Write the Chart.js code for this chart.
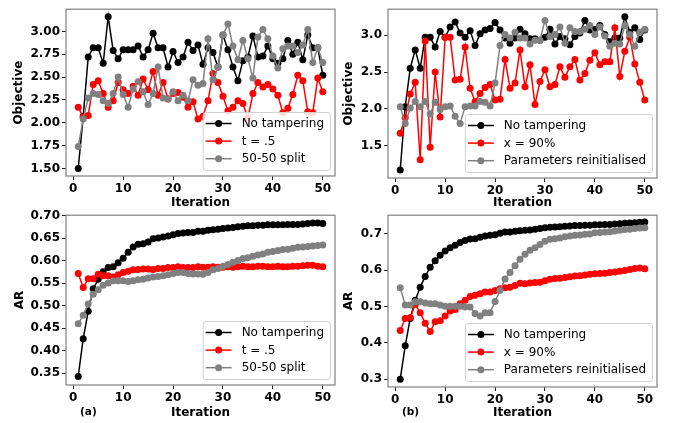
<!DOCTYPE html>
<html>
<head>
<meta charset="utf-8">
<script src="https://cdn.jsdelivr.net/npm/chart.js@4.4.0/dist/chart.umd.min.js"></script>
<style>
  body { margin: 0; background: #fff; }
  #wrap { position: relative; width: 678px; height: 423px; overflow: hidden; }
  #wrap canvas { position: absolute; }
  .tag { position: absolute; font: bold 10.5px "DejaVu Sans", sans-serif; color: #000; }
</style>
</head>
<body>
<div id="wrap">
  <canvas id="objA" width="339" height="212" style="left:0;top:0"></canvas>
  <canvas id="objB" width="339" height="212" style="left:339px;top:0"></canvas>
  <canvas id="arA" width="339" height="217" style="left:0;top:206px"></canvas>
  <canvas id="arB" width="339" height="217" style="left:339px;top:206px"></canvas>
  <div class="tag" style="left:80px;top:405px">(a)</div>
  <div class="tag" style="left:402px;top:405px">(b)</div>
</div>
<script>
const iterations = [1, 2, 3, 4, 5, 6, 7, 8, 9, 10, 11, 12, 13, 14, 15, 16, 17, 18, 19, 20,
  21, 22, 23, 24, 25, 26, 27, 28, 29, 30, 31, 32, 33, 34, 35, 36, 37, 38, 39, 40,
  41, 42, 43, 44, 45, 46, 47, 48, 49, 50];

// objective per iteration, run (a)
const objNoTamperA = [1.50, 2.07, 2.72, 2.82, 2.82, 2.65, 3.16, 2.79, 2.70, 2.80,
  2.80, 2.80, 2.84, 2.72, 2.80, 2.98, 2.82, 2.82, 2.61, 2.78,
  2.66, 2.72, 2.88, 2.79, 2.85, 2.64, 2.82, 2.77, 2.61, 2.96,
  2.80, 2.61, 2.46, 2.68, 2.72, 2.95, 2.72, 2.73, 2.84, 2.70,
  2.65, 2.70, 2.90, 2.75, 2.88, 2.69, 2.96, 2.82, 2.82, 2.52];
const objT05 = [2.17, 2.06, 2.08, 2.42, 2.46, 2.32, 2.17, 2.24, 2.44, 2.36,
  2.32, 2.40, 2.30, 2.48, 2.36, 2.56, 2.30, 2.44, 2.26, 2.32,
  2.33, 2.28, 2.17, 2.23, 2.04, 2.07, 2.24, 2.54, 2.44, 2.29,
  2.13, 2.17, 2.24, 2.21, 2.05, 2.32, 2.44, 2.39, 2.42, 2.37,
  2.30, 2.11, 2.16, 2.31, 2.52, 2.46, 2.12, 2.11, 2.49, 2.34];
const objSplit = [1.74, 2.04, 2.27, 2.32, 2.31, 2.24, 2.21, 2.32, 2.50, 2.31,
  2.17, 2.37, 2.45, 2.34, 2.20, 2.32, 2.61, 2.27, 2.26, 2.34,
  2.24, 2.30, 2.24, 2.47, 2.41, 2.43, 2.92, 2.47, 2.61, 2.96,
  3.08, 2.84, 2.69, 2.90, 2.70, 2.49, 2.94, 3.02, 2.92, 2.73,
  2.60, 2.81, 2.84, 2.84, 2.77, 2.85, 3.02, 2.66, 2.82, 2.66];

// objective per iteration, run (b)
const objNoTamperB = [1.17, 2.03, 2.55, 2.80, 2.55, 2.97, 2.97, 2.84, 3.05, 2.97,
  3.11, 3.18, 3.03, 2.97, 3.06, 2.86, 3.02, 3.07, 3.09, 3.17,
  3.07, 2.96, 2.89, 2.96, 3.08, 3.02, 2.95, 2.95, 2.93, 2.97,
  3.08, 2.88, 2.98, 2.95, 2.87, 2.98, 3.03, 3.20, 3.07, 3.08,
  3.13, 3.01, 2.91, 2.96, 2.96, 3.25, 3.04, 3.10, 2.94, 3.07];
const objX90 = [1.67, 1.88, 2.20, 2.36, 1.31, 2.92, 1.48, 2.50, 1.89, 2.97,
  2.97, 2.39, 2.40, 2.84, 2.28, 2.10, 2.21, 2.29, 2.33, 2.12,
  2.13, 2.67, 2.28, 2.35, 2.80, 2.30, 2.60, 2.06, 2.37, 2.53,
  2.30, 2.33, 2.57, 2.43, 2.57, 2.67, 2.39, 2.48, 2.66, 2.76,
  2.60, 2.64, 2.64, 3.10, 2.44, 2.78, 2.97, 2.61, 2.36, 2.12];
const objReinit = [2.03, 1.80, 2.01, 2.10, 2.03, 2.10, 1.93, 2.09, 1.99, 2.03,
  2.04, 1.90, 1.80, 2.03, 2.04, 2.04, 2.10, 2.09, 2.04, 2.35,
  2.86, 3.01, 2.96, 3.04, 2.96, 2.96, 2.88, 2.93, 2.93, 3.20,
  2.98, 3.01, 3.11, 2.89, 3.10, 3.05, 3.05, 3.08, 3.13, 3.01,
  3.11, 2.99, 2.85, 2.89, 2.88, 3.13, 3.01, 2.85, 3.04, 3.08];

// approximation ratio per iteration, run (a)
const arNoTamperA = [0.343, 0.427, 0.488, 0.538, 0.559, 0.576, 0.585, 0.587, 0.596, 0.606,
  0.619, 0.631, 0.637, 0.638, 0.642, 0.649, 0.651, 0.653, 0.655, 0.658,
  0.661, 0.662, 0.663, 0.663, 0.666, 0.666, 0.668, 0.669, 0.670, 0.672,
  0.673, 0.674, 0.676, 0.677, 0.678, 0.678, 0.679, 0.679, 0.680, 0.680,
  0.680, 0.680, 0.681, 0.681, 0.681, 0.682, 0.683, 0.684, 0.684, 0.683];
const arT05 = [0.572, 0.541, 0.560, 0.560, 0.570, 0.567, 0.567, 0.564, 0.569, 0.574,
  0.577, 0.580, 0.581, 0.582, 0.582, 0.581, 0.583, 0.583, 0.585, 0.585,
  0.587, 0.585, 0.585, 0.585, 0.587, 0.586, 0.586, 0.587, 0.586, 0.586,
  0.587, 0.586, 0.587, 0.588, 0.587, 0.587, 0.588, 0.588, 0.587, 0.587,
  0.588, 0.587, 0.587, 0.588, 0.588, 0.589, 0.590, 0.590, 0.588, 0.587];
const arSplit = [0.460, 0.479, 0.504, 0.526, 0.536, 0.546, 0.551, 0.556, 0.556, 0.556,
  0.554, 0.556, 0.558, 0.559, 0.562, 0.564, 0.565, 0.567, 0.569, 0.572,
  0.574, 0.574, 0.572, 0.571, 0.571, 0.570, 0.574, 0.580, 0.583, 0.588,
  0.592, 0.597, 0.601, 0.605, 0.607, 0.610, 0.613, 0.615, 0.619, 0.621,
  0.623, 0.625, 0.626, 0.628, 0.630, 0.631, 0.632, 0.633, 0.634, 0.635];

// approximation ratio per iteration, run (b)
const arNoTamperB = [0.300, 0.392, 0.467, 0.517, 0.553, 0.583, 0.608, 0.626, 0.641, 0.653,
  0.662, 0.669, 0.676, 0.682, 0.686, 0.687, 0.691, 0.694, 0.696, 0.698,
  0.702, 0.705, 0.705, 0.707, 0.709, 0.710, 0.711, 0.713, 0.715, 0.717,
  0.718, 0.719, 0.720, 0.721, 0.722, 0.723, 0.723, 0.724, 0.724, 0.725,
  0.725, 0.726, 0.726, 0.727, 0.728, 0.729, 0.730, 0.731, 0.732, 0.733];
const arX90 = [0.434, 0.467, 0.470, 0.506, 0.483, 0.454, 0.431, 0.458, 0.461, 0.474,
  0.488, 0.492, 0.508, 0.517, 0.528, 0.531, 0.535, 0.540, 0.540, 0.544,
  0.549, 0.552, 0.553, 0.558, 0.564, 0.563, 0.565, 0.566, 0.567, 0.571,
  0.575, 0.577, 0.578, 0.580, 0.582, 0.584, 0.585, 0.587, 0.589, 0.590,
  0.591, 0.592, 0.594, 0.595, 0.597, 0.599, 0.602, 0.605, 0.606, 0.604];
const arReinit = [0.552, 0.504, 0.504, 0.513, 0.513, 0.510, 0.508, 0.508, 0.504, 0.501,
  0.501, 0.501, 0.501, 0.499, 0.499, 0.481, 0.474, 0.483, 0.483, 0.514,
  0.544, 0.576, 0.594, 0.612, 0.630, 0.644, 0.655, 0.662, 0.671, 0.680,
  0.685, 0.687, 0.689, 0.692, 0.694, 0.696, 0.697, 0.699, 0.700, 0.703,
  0.704, 0.705, 0.706, 0.708, 0.710, 0.712, 0.713, 0.715, 0.716, 0.717];

const iterTicks = [0, 10, 20, 30, 40, 50];
const objTicksA = [1.50, 1.75, 2.00, 2.25, 2.50, 2.75, 3.00];
const objTicksB = [1.5, 2.0, 2.5, 3.0];
const arTicksA = [0.35, 0.40, 0.45, 0.50, 0.55, 0.60, 0.65, 0.70];
const arTicksB = [0.3, 0.4, 0.5, 0.6, 0.7];

const labelsA = ['No tampering', 't = .5', '50-50 split'];
const labelsB = ['No tampering', 'x = 90%', 'Parameters reinitialised'];
const colors = ['#000000', '#ff0000', '#808080'];

Chart.defaults.font.family = '"DejaVu Sans", sans-serif';
Chart.defaults.color = '#000';

// axes box + matplotlib-style legend (line with marker in the middle)
const boxPlugin = {
  id: 'box',
  afterDatasetsDraw(chart, args, opts) {
    const { ctx, chartArea: a } = chart;
    ctx.save();
    ctx.strokeStyle = '#808080';
    ctx.lineWidth = 1.2;
    ctx.strokeRect(a.left, a.top, a.right - a.left, a.bottom - a.top);

    ctx.font = '12px "DejaVu Sans", sans-serif';
    const tw = Math.max(...opts.labels.map(t => ctx.measureText(t).width));
    const w = 3 + 26 + 10 + tw + 6, h = 58;
    const x = a.right - 5 - w, y = a.bottom - 6 - h;
    ctx.beginPath();
    ctx.roundRect(x + 0.5, y + 0.5, w, h, 3);
    ctx.fillStyle = 'rgba(255,255,255,0.85)';
    ctx.fill();
    ctx.strokeStyle = '#d0d0d0';
    ctx.lineWidth = 1;
    ctx.stroke();

    opts.labels.forEach((t, k) => {
      const ry = y + 11.5 + 17.6 * k;
      ctx.strokeStyle = colors[k];
      ctx.fillStyle = colors[k];
      ctx.lineWidth = 1.5;
      ctx.beginPath();
      ctx.moveTo(x + 3, ry);
      ctx.lineTo(x + 29, ry);
      ctx.stroke();
      ctx.beginPath();
      ctx.arc(x + 16, ry, 3.5, 0, Math.PI * 2);
      ctx.fill();
      ctx.fillStyle = '#000';
      ctx.textBaseline = 'middle';
      ctx.fillText(t, x + 39, ry + 0.5);
    });
    ctx.restore();
  }
};

function drawPanel(id, series, labels, p) {
  const datasets = series.map((vals, k) => ({
    label: labels[k],
    data: iterations.map((it, j) => ({ x: it, y: vals[j] })),
    borderColor: colors[k],
    backgroundColor: colors[k],
    pointBackgroundColor: colors[k],
    pointBorderWidth: 0,
    pointRadius: 3.5,
    borderWidth: 1.5,
    order: series.length - k
  }));
  const tickFont = { size: 12, weight: 'bold' };
  new Chart(document.getElementById(id), {
    type: 'line',
    data: { datasets },
    plugins: [boxPlugin],
    options: {
      responsive: false,
      animation: false,
      events: [],
      layout: { padding: p.pad },
      plugins: {
        legend: { display: false },
        tooltip: { enabled: false },
        box: { labels }
      },
      scales: {
        x: {
          type: 'linear',
          min: -1.45,
          max: 52.45,
          afterBuildTicks: s => { s.ticks = iterTicks.map(v => ({ value: v })); },
          afterFit: s => { s.height = p.xh; },
          grid: { drawOnChartArea: false, tickLength: 4, color: '#222' },
          border: { display: false },
          ticks: { font: tickFont, padding: 2, maxRotation: 0 },
          title: { display: true, text: 'Iteration', font: tickFont, padding: { top: 0, bottom: p.xtPad } }
        },
        y: {
          min: p.ymin,
          max: p.ymax,
          afterBuildTicks: s => { s.ticks = p.yticks.map(v => ({ value: v })); },
          afterFit: s => { s.width = p.yw; },
          grid: { drawOnChartArea: false, tickLength: 4, color: '#222' },
          border: { display: false },
          ticks: { font: tickFont, padding: 2, callback: v => v.toFixed(p.dec) },
          title: { display: true, text: p.ytitle, font: tickFont, padding: { top: p.ytPad, bottom: 0 } }
        }
      }
    }
  });
}

drawPanel('objA', [objNoTamperA, objT05, objSplit], labelsA, {
  pad: { top: 2, right: 4, left: 0, bottom: 0 }, xh: 36, yw: 66, xtPad: 2, ytPad: 12,
  ymin: 1.417, ymax: 3.243, yticks: objTicksA, dec: 2, ytitle: 'Objective'
});
drawPanel('objB', [objNoTamperB, objX90, objReinit], labelsB, {
  pad: { top: 3, right: 21, left: 0, bottom: 0 }, xh: 34, yw: 49, xtPad: 2, ytPad: 3,
  ymin: 1.062, ymax: 3.352, yticks: objTicksB, dec: 1, ytitle: 'Objective'
});
drawPanel('arA', [arNoTamperA, arT05, arSplit], labelsA, {
  pad: { top: 4, right: 3, left: 0, bottom: 0 }, xh: 38, yw: 66, xtPad: 3, ytPad: 13,
  ymin: 0.324, ymax: 0.7015, yticks: arTicksA, dec: 2, ytitle: 'AR'
});
drawPanel('arB', [arNoTamperB, arX90, arReinit], labelsB, {
  pad: { top: 6, right: 21, left: 0, bottom: 0 }, xh: 36, yw: 49, xtPad: 3, ytPad: 3,
  ymin: 0.2785, ymax: 0.7515, yticks: arTicksB, dec: 1, ytitle: 'AR'
});
</script>
</body>
</html>
